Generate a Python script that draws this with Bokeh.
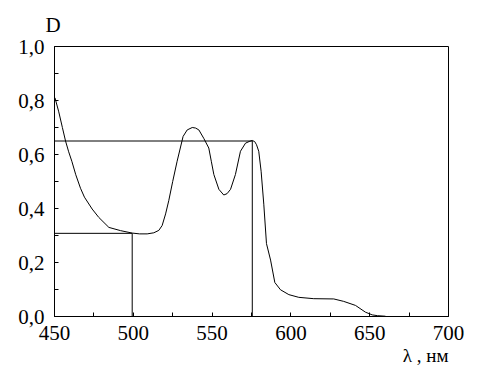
from bokeh.plotting import figure
from bokeh.models import FixedTicker, Range1d, Title
from bokeh.embed import file_html
from bokeh.resources import INLINE

# spectrum
wavelength = [450.3, 452.7, 455.0, 457.0, 459.0, 461.0, 463.5, 466.5, 469.0, 473.9, 478.1,
              484.5, 491.9, 499.3, 504.0, 508.8, 513.0, 516.2, 518.3, 520.5, 522.5, 525.0,
              527.8, 531.6, 534.2, 537.4, 539.5, 541.6, 544.7, 547.9, 549.5, 551.1, 554.3,
              557.4, 559.5, 561.7, 564.8, 568.0, 571.2, 573.5, 575.4, 577.0, 578.2, 579.6,
              581.1, 582.8, 584.5, 587.1, 589.8, 593.4, 598.7, 605.0, 614.5, 627.2, 633.5,
              641.0, 647.3, 651.6, 655.0, 660.0]
density = [0.81, 0.758, 0.70, 0.65, 0.61, 0.575, 0.525, 0.475, 0.442, 0.398, 0.367,
           0.330, 0.318, 0.309, 0.306, 0.306, 0.31, 0.319, 0.337, 0.38, 0.429, 0.50,
           0.575, 0.667, 0.691, 0.700, 0.698, 0.691, 0.66, 0.624, 0.575, 0.526, 0.471,
           0.450, 0.455, 0.471, 0.526, 0.612, 0.642, 0.648, 0.652, 0.648, 0.636, 0.612,
           0.538, 0.416, 0.270, 0.209, 0.126, 0.099, 0.081, 0.071, 0.066, 0.065, 0.056,
           0.041, 0.016, 0.006, 0.003, 0.001]

# reference lines
ref1_x = [450, 575.5, 575.5]
ref1_y = [0.65, 0.65, 0.0]
ref2_x = [450, 499.3, 499.3]
ref2_y = [0.308, 0.308, 0.0]

x_major = [450, 500, 550, 600, 650, 700]
x_minor = [475, 525, 575, 625, 675]
y_major = [0.0, 0.2, 0.4, 0.6, 0.8, 1.0]
y_minor = [0.1, 0.3, 0.5, 0.7, 0.9]
y_labels = {0.0: "0,0", 0.2: "0,2", 0.4: "0,4", 0.6: "0,6", 0.8: "0,8", 1.0: "1,0"}

FONT = "'Liberation Serif', 'Times New Roman', serif"

p = figure(width=477, height=365, output_backend="svg", toolbar_location=None,
           x_range=Range1d(450, 700), y_range=Range1d(0, 1.0),
           min_border_left=54, min_border_right=29, min_border_top=44, min_border_bottom=48)
p.grid.visible = False
p.outline_line_color = "black"
p.outline_line_width = 1
p.outline_line_alpha = 1
p.background_fill_color = "white"
p.border_fill_color = "white"

p.line(wavelength, density, line_color="black", line_width=1)
p.line(ref1_x, ref1_y, line_color="black", line_width=1)
p.line(ref2_x, ref2_y, line_color="black", line_width=1)

p.xaxis.ticker = FixedTicker(ticks=x_major, minor_ticks=x_minor)
p.yaxis.ticker = FixedTicker(ticks=y_major, minor_ticks=y_minor)
p.yaxis.major_label_overrides = y_labels
for ax in (p.xaxis, p.yaxis):
    ax.axis_line_color = "black"
    ax.major_tick_in = 4
    ax.major_tick_out = 0
    ax.minor_tick_in = 4
    ax.minor_tick_out = 0
    ax.major_tick_line_color = "black"
    ax.minor_tick_line_color = "black"
    ax.major_label_text_font = FONT
    ax.major_label_text_font_size = "21px"
    ax.major_label_text_color = "black"
p.xaxis.major_label_standoff = 9
p.yaxis.major_label_standoff = 10

p.add_layout(Title(text="D", align="left", offset=-9, standoff=20,
                   text_font=FONT, text_font_size="21px", text_font_style="normal",
                   text_color="black"), "above")
p.add_layout(Title(text="λ , нм", align="right", offset=0, standoff=0,
                   text_font=FONT, text_font_size="19px", text_font_style="normal",
                   text_color="black"), "below")

open("out.html", "w").write(file_html(p, INLINE))
